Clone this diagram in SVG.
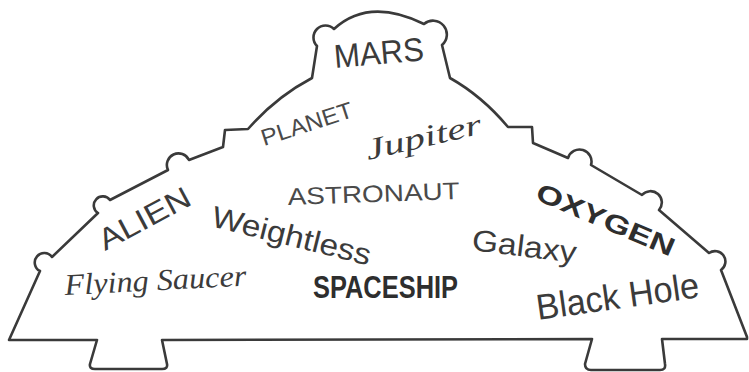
<svg xmlns="http://www.w3.org/2000/svg" width="749" height="372" viewBox="0 0 749 372">
  <style>
    .outline { fill: #ffffff; stroke: #3a3a3a; stroke-width: 2.6; stroke-linejoin: round; stroke-linecap: round; }
    .hand { font-family: "Liberation Sans", "DejaVu Sans", sans-serif; fill: #3b3b3b; }
    .thin { font-family: "Liberation Sans", "DejaVu Sans", sans-serif; fill: #4a4a4a; }
    .script { font-family: "Liberation Serif", "DejaVu Serif", serif; font-style: italic; fill: #3b3b3b; }
    .bold { font-family: "Liberation Sans", "DejaVu Sans", sans-serif; font-weight: bold; fill: #2e2e2e; }
  </style>
  <rect x="0" y="0" width="749" height="372" fill="#ffffff"/>
  <g id="dome">
    <path class="outline" d="M 9,340 L 40,271 A 9.5 9.5 0 1 1 52,257 L 98,213 A 9 9 0 1 1 110,200 L 168,170 A 11.5 11.5 0 1 1 189,160 L 223,147 L 225,130 L 248,129 Q 276,97 312,78 L 317,46 A 11.5 11.5 0 1 1 334,29 Q 369,-3 424,24 A 12 12 0 1 1 442,45 L 450,78 Q 482,96 508,127 L 532,127 L 533,143 L 568,158 A 11.5 11.5 0 1 1 591,165 L 642,195 A 9.5 9.5 0 1 1 659,210 L 709,253 A 9.5 9.5 0 1 1 721,270 L 747,337 L 747,339 L 662,339 L 665,364 Q 666,370 660,370 L 591,370 Q 585,370 585,364 L 592,339 L 162,340 L 167,364 Q 168,369 162,369 L 95,369 Q 89,369 90,364 L 97,340 Z"/>
  </g>
  <g id="words">
    <text id="mars" class="hand" x="335" y="68" font-size="33" textLength="90" lengthAdjust="spacingAndGlyphs" transform="rotate(-5 335 68)">MARS</text>
    <text id="planet" class="thin" x="264" y="146" font-size="23" textLength="95" lengthAdjust="spacingAndGlyphs" transform="rotate(-18 264 146)">PLANET</text>
    <text id="jupiter" class="script" x="368" y="160" font-size="30" textLength="118" lengthAdjust="spacingAndGlyphs" transform="rotate(-13 368 160)">Jupiter</text>
    <text id="astronaut" class="thin" x="288" y="205" font-size="24" textLength="172" lengthAdjust="spacingAndGlyphs" transform="rotate(-2 288 205)">ASTRONAUT</text>
    <text id="alien" class="hand" x="105" y="251" font-size="30" textLength="100" lengthAdjust="spacingAndGlyphs" transform="rotate(-28 105 251)">ALIEN</text>
    <text id="weightless" class="hand" x="210" y="226" font-size="30" textLength="163" lengthAdjust="spacingAndGlyphs" transform="rotate(14 210 226)">Weightless</text>
    <text id="oxygen" class="bold" x="534" y="199" font-size="26" textLength="148" lengthAdjust="spacingAndGlyphs" transform="rotate(23 534 199)">OXYGEN</text>
    <text id="galaxy" class="hand" x="471" y="250" font-size="30" textLength="105" lengthAdjust="spacingAndGlyphs" transform="rotate(7 471 250)">Galaxy</text>
    <text id="flying" class="script" x="65" y="295" font-size="30" textLength="182" lengthAdjust="spacingAndGlyphs" transform="rotate(-3 65 295)">Flying Saucer</text>
    <text id="spaceship" class="bold" x="313" y="298" font-size="32" textLength="145" lengthAdjust="spacingAndGlyphs">SPACESHIP</text>
    <text id="blackhole" class="hand" x="538" y="320" font-size="36" textLength="164" lengthAdjust="spacingAndGlyphs" transform="rotate(-8 538 320)">Black Hole</text>
  </g>
</svg>
